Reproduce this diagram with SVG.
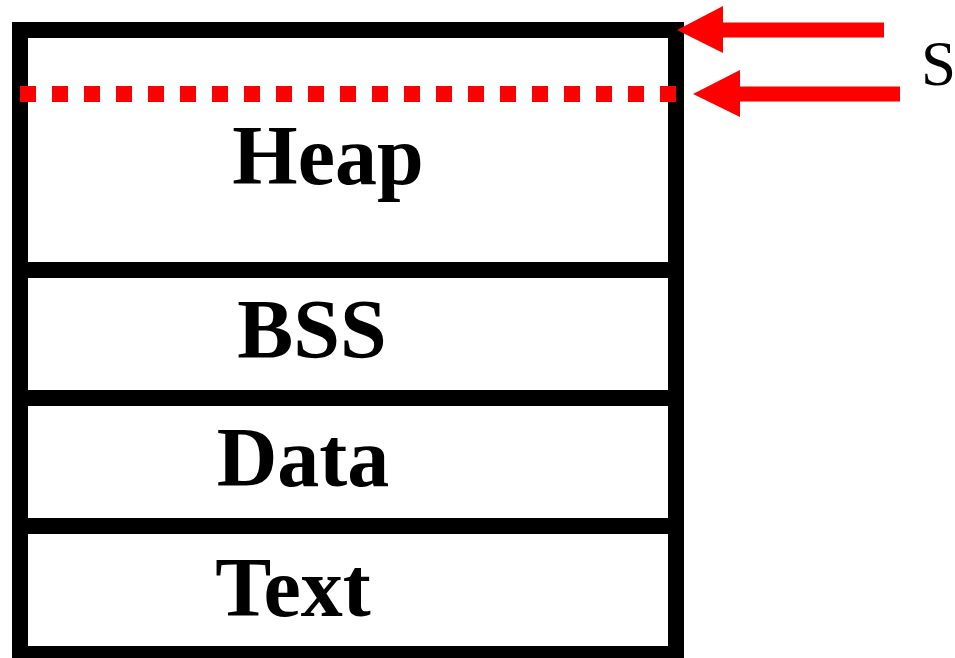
<svg xmlns="http://www.w3.org/2000/svg" width="955" height="658" viewBox="0 0 955 658">
  <style>
    .frame { fill: none; stroke: #000; stroke-width: 16; }
    .divider { stroke: #000; stroke-width: 16; }
    .label { font-family: "Liberation Serif", "Times New Roman", serif; font-weight: bold; font-size: 84px; fill: #000; text-anchor: middle; }
    .mark { fill: #ff0000; }
    .boundary { stroke: #ff0000; stroke-width: 16; stroke-dasharray: 16 16; fill: none; }
    .side { font-family: "Liberation Serif", "Times New Roman", serif; font-size: 63px; fill: #000; }
  </style>

  <!-- memory layout column -->
  <g id="memory">
    <rect class="frame" x="20" y="30" width="656" height="624"/>
  </g>

  <g id="heap">
    <text class="label" x="328" y="184">Heap</text>
  </g>
  <g id="bss">
    <line class="divider" x1="20" y1="270" x2="676" y2="270"/>
    <text class="label" x="312" y="358">BSS</text>
  </g>
  <g id="data">
    <line class="divider" x1="20" y1="398" x2="676" y2="398"/>
    <text class="label" x="303" y="486">Data</text>
  </g>
  <g id="text-segment">
    <line class="divider" x1="20" y1="526" x2="676" y2="526"/>
    <text class="label" x="293" y="616">Text</text>
  </g>

  <!-- pointers and current heap boundary -->
  <g id="connectors">
    <line class="boundary" x1="20" y1="94" x2="676" y2="94"/>
    <polygon class="mark" points="677,30 723,6 723,22.5 884,22.5 884,37.5 723,37.5 723,53"/>
    <polygon class="mark" points="693,94 740,70 740,86.5 900,86.5 900,101.5 740,101.5 740,117"/>
  </g>

  <g id="label-s">
    <text class="side" x="921" y="85">S</text>
  </g>
</svg>
